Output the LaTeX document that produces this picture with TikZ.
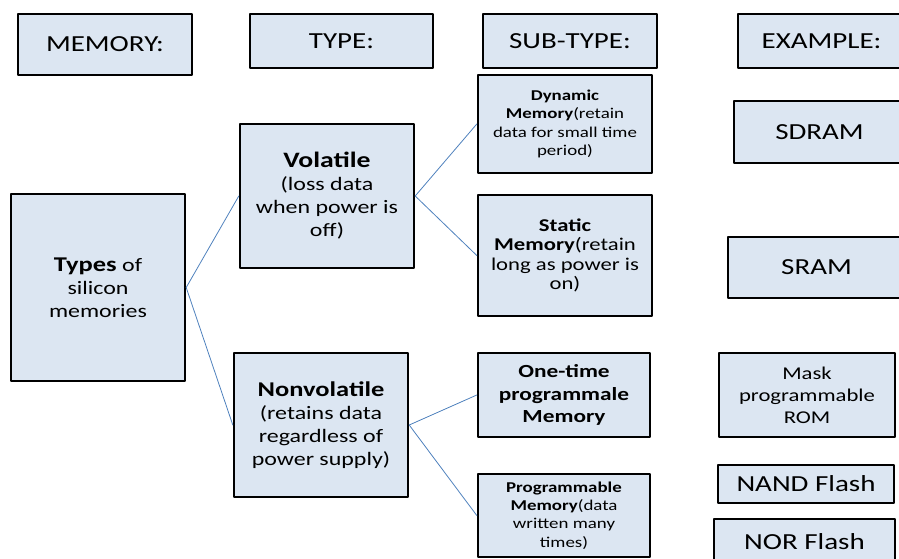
\documentclass[tikz,border=0pt]{standalone}
\usepackage{fontspec}
\setmainfont{Carlito}[FakeStretch=1.26]
\usepackage{xcolor}
\definecolor{boxfill}{RGB}{220,230,242}
\definecolor{linkblue}{RGB}{79,129,189}
\tikzset{
  every picture/.style={line join=round, line cap=round},
  box/.style={draw=black, line width=2.4pt, fill=boxfill, align=center, inner sep=0pt},
  link/.style={draw=linkblue, line width=0.8pt},
  txtbig/.style={font=\fontsize{23}{27}\selectfont},
  txtmid/.style={font=\fontsize{19}{23}\selectfont},
  txtsml/.style={font=\fontsize{15}{18.3}\selectfont},
}

\begin{document}
\begin{tikzpicture}[x=1pt,y=-1pt]
\useasboundingbox (0,0) rectangle (899,559);
\clip (0,0) rectangle (899,559);
% column headers
\node[box,txtbig,minimum width=174,minimum height=61] (mem) at (105,44.5) {MEMORY:};
\node[box,txtbig,minimum width=183,minimum height=54] (typ) at (341.5,41) {TYPE:};
\node[box,txtbig,minimum width=174,minimum height=54] (sub) at (570,41) {SUB-TYPE:};
\node[box,txtbig,minimum width=167,minimum height=54] (exa) at (821.5,41) {EXAMPLE:};
% tree
\node[box,txtmid,minimum width=174,minimum height=187] (types) at (98,287.5)
  {{\fontsize{21}{23}\selectfont\bfseries Types} of\\silicon\\memories};
\node[box,txtmid,minimum width=174,minimum height=144] (vol) at (327,196)
  {{\fontsize{22}{24}\selectfont\bfseries Volatile}\\(loss data\\when power is\\off)};
\node[box,txtmid,minimum width=174,minimum height=144] (nvol) at (321,425)
  {{\fontsize{21}{24}\selectfont\bfseries Nonvolatile}\\(retains data\\regardless of\\power supply)};
\node[box,txtsml,minimum width=174,minimum height=98] (dyn) at (565,124)
  {\textbf{Dynamic}\\\textbf{Memory}(retain\\data for small time\\period)};
\node[box,font=\fontsize{18}{19.5}\selectfont,minimum width=174,minimum height=121] (stat) at (565,255.5)
  {\textbf{Static}\\\textbf{Memory}(retain\\long as power is\\on)};
\node[box,font=\fontsize{18.5}{22.5}\selectfont\bfseries,minimum width=172,minimum height=84] (otp) at (564,395)
  {One-time\\programmale\\Memory};
\node[box,txtsml,minimum width=172,minimum height=83] (prog) at (564,515.5)
  {\textbf{Programmable}\\\textbf{Memory}(data\\written many\\times)};
% examples
\node[box,txtbig,minimum width=171,minimum height=62] (sdram) at (819.5,132) {SDRAM};
\node[box,txtbig,minimum width=177,minimum height=61] (sram) at (816.5,267.5) {SRAM};
\node[box,font=\fontsize{18}{22}\selectfont,minimum width=176,minimum height=84] (mask) at (807,395)
  {Mask\\programmable\\ROM};
\node[box,txtbig,minimum width=176,minimum height=38] (nand) at (806,484) {NAND Flash};
\node[box,txtbig,minimum width=181,minimum height=46] (nor) at (804.5,542) {NOR Flash};
% connectors
\draw[link] (types.east) -- (vol.west);
\draw[link] (types.east) -- (nvol.west);
\draw[link] (vol.east) -- (dyn.west);
\draw[link] (vol.east) -- (stat.west);
\draw[link] (nvol.east) -- (otp.west);
\draw[link] (nvol.east) -- (prog.west);
\end{tikzpicture}
\end{document}
